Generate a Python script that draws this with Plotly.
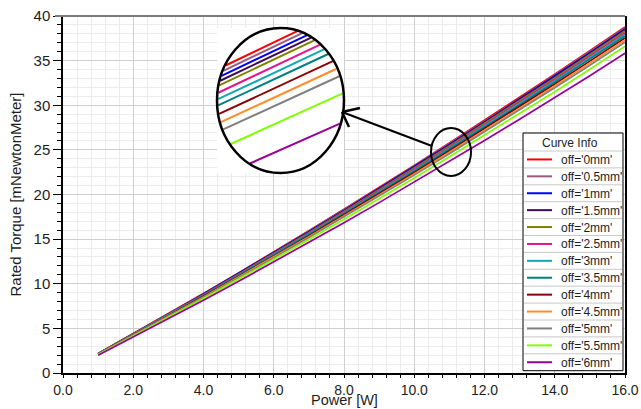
import math
import plotly.graph_objects as go

power = [1, 2, 3, 4, 5, 6, 7, 8, 9, 10, 11, 12, 13, 14, 15, 16]

names = ["off='0mm'", "off='0.5mm'", "off='1mm'", "off='1.5mm'", "off='2mm'",
         "off='2.5mm'", "off='3mm'", "off='3.5mm'", "off='4mm'", "off='4.5mm'",
         "off='5mm'", "off='5.5mm'", "off='6mm'"]

colors = ["#ff0000", "#9a5a7e", "#0000ff", "#3c0a5a", "#808000", "#e0148c",
          "#10a8b8", "#008080", "#8b0000", "#ff8c28", "#808080", "#80ff00", "#990099"]

off_0mm = [2.18, 4.39, 6.63, 8.90, 11.21, 13.55, 15.93, 18.34, 20.78, 23.25, 25.76, 28.30, 30.87, 33.47, 36.11, 38.78]
off_0p5mm = [2.17, 4.38, 6.61, 8.87, 11.17, 13.51, 15.88, 18.28, 20.71, 23.18, 25.68, 28.21, 30.77, 33.37, 36.00, 38.66]
off_1mm = [2.17, 4.36, 6.59, 8.84, 11.14, 13.46, 15.83, 18.22, 20.65, 23.10, 25.60, 28.12, 30.68, 33.26, 35.89, 38.54]
off_1p5mm = [2.16, 4.35, 6.56, 8.81, 11.10, 13.42, 15.78, 18.16, 20.58, 23.03, 25.52, 28.04, 30.58, 33.16, 35.78, 38.43]
off_2mm = [2.15, 4.33, 6.54, 8.78, 11.07, 13.38, 15.73, 18.11, 20.52, 22.96, 25.44, 27.95, 30.49, 33.06, 35.68, 38.32]
off_2p5mm = [2.14, 4.31, 6.51, 8.74, 11.01, 13.30, 15.64, 18.01, 20.41, 22.84, 25.31, 27.81, 30.34, 32.90, 35.50, 38.12]
off_3mm = [2.13, 4.29, 6.47, 8.69, 10.95, 13.24, 15.57, 17.92, 20.31, 22.73, 25.19, 27.68, 30.19, 32.74, 35.33, 37.95]
off_3p5mm = [2.12, 4.26, 6.44, 8.65, 10.90, 13.17, 15.49, 17.84, 20.21, 22.62, 25.07, 27.54, 30.05, 32.59, 35.17, 37.77]
off_4mm = [2.10, 4.23, 6.40, 8.59, 10.82, 13.08, 15.38, 17.72, 20.08, 22.47, 24.90, 27.36, 29.86, 32.38, 34.94, 37.53]
off_4p5mm = [2.09, 4.20, 6.35, 8.52, 10.74, 12.99, 15.27, 17.59, 19.93, 22.31, 24.73, 27.17, 29.65, 32.15, 34.70, 37.28]
off_5mm = [2.07, 4.17, 6.31, 8.47, 10.67, 12.90, 15.17, 17.48, 19.81, 22.17, 24.57, 27.00, 29.47, 31.96, 34.49, 37.05]
off_5p5mm = [2.04, 4.11, 6.21, 8.34, 10.52, 12.72, 14.96, 17.23, 19.53, 21.86, 24.23, 26.63, 29.06, 31.52, 34.03, 36.62]
off_6mm = [1.99, 4.02, 6.07, 8.15, 10.27, 12.43, 14.62, 16.84, 19.09, 21.38, 23.70, 26.05, 28.43, 30.85, 33.30, 35.84]

series = [off_0mm, off_0p5mm, off_1mm, off_1p5mm, off_2mm, off_2p5mm, off_3mm,
          off_3p5mm, off_4mm, off_4p5mm, off_5mm, off_5p5mm, off_6mm]

x_ticks = [0, 2, 4, 6, 8, 10, 12, 14, 16]
x_tick_labels = ["0.0", "2.0", "4.0", "6.0", "8.0", "10.0", "12.0", "14.0", "16.0"]
y_ticks = [0, 5, 10, 15, 20, 25, 30, 35, 40]
y_tick_labels = ["0", "5", "10", "15", "20", "25", "30", "35", "40"]

FONT = "Liberation Sans, Arial, sans-serif"
TXT = "#1e1e1e"

# plot-area geometry (pixels)
WIDTH, HEIGHT = 641, 409
L, T, W, H = 63, 16, 562, 357


def px(x):
    return (x - L) / W


def py(y):
    return (T + H - y) / H


fig = go.Figure()

for name, col, ys in zip(names, colors, series):
    fig.add_trace(go.Scatter(x=power, y=ys, mode="lines", name=name,
                             line=dict(color=col, width=1.7), showlegend=False))

# ---- magnified inset (same data, zoomed around P = 11 W) ----
ix0, ix1 = 217, 344
iy0, iy1 = 28, 173
xc_in, yc_in = 11.0, 24.62
a_in, b_in = 0.224, 1.348
for name, col, ys in zip(names, colors, series):
    i10, i11, i12 = power.index(10), power.index(11), power.index(12)
    s = (ys[i12] - ys[i10]) / 2.0
    c = ys[i11] - yc_in
    A = 1 / a_in ** 2 + s ** 2 / b_in ** 2
    B = 2 * c * s / b_in ** 2
    C = c ** 2 / b_in ** 2 - 1
    disc = B * B - 4 * A * C
    if disc <= 0:
        continue
    u1 = (-B - math.sqrt(disc)) / (2 * A) * 0.985
    u2 = (-B + math.sqrt(disc)) / (2 * A) * 0.985
    fig.add_trace(go.Scatter(x=[xc_in + u1, xc_in + u2],
                             y=[ys[i11] + s * u1, ys[i11] + s * u2],
                             mode="lines", line=dict(color=col, width=2),
                             xaxis="x2", yaxis="y2", showlegend=False,
                             hoverinfo="skip"))

shapes = []
# inset circle outline
shapes.append(dict(type="circle", xref="paper", yref="paper",
                   x0=px(ix0), x1=px(ix1), y0=py(iy1), y1=py(iy0),
                   line=dict(color="black", width=2.5)))
# small ellipse around the data
shapes.append(dict(type="circle", xref="paper", yref="paper",
                   x0=px(431), x1=px(471), y0=py(176), y1=py(128),
                   line=dict(color="black", width=2)))
# arrow shaft and head
tip = (342, 112)
shapes.append(dict(type="line", xref="paper", yref="paper",
                   x0=px(432), y0=py(146), x1=px(tip[0]), y1=py(tip[1]),
                   line=dict(color="black", width=2)))
for ex, ey in [(360, 108), (349, 127)]:
    shapes.append(dict(type="line", xref="paper", yref="paper",
                       x0=px(tip[0]), y0=py(tip[1]), x1=px(ex), y1=py(ey),
                       line=dict(color="black", width=2.5)))
# top border (gray)
shapes.append(dict(type="line", xref="paper", yref="paper",
                   x0=px(55), x1=1, y0=1, y1=1,
                   line=dict(color="#7a7a7a", width=2)))

# ---- legend box ("Curve Info") ----
lx0, lx1 = 523, 623
ly0 = 133
title_h = 18
row_h = 16.9
ly1 = ly0 + title_h + row_h * len(names)
shapes.append(dict(type="rect", xref="paper", yref="paper",
                   x0=px(lx0), x1=px(lx1), y0=py(ly1), y1=py(ly0),
                   fillcolor="white", line=dict(color="black", width=1), layer="above"))
annotations = []
annotations.append(dict(text="Curve Info", xref="paper", yref="paper",
                        x=px((lx0 + lx1) / 2 - 3), y=py(ly0 + title_h / 2 + 0.5),
                        showarrow=False, xanchor="center", yanchor="middle",
                        font=dict(family=FONT, size=12, color=TXT)))
for i, (name, col) in enumerate(zip(names, colors)):
    top = ly0 + title_h + row_h * i
    mid = top + row_h / 2
    shapes.append(dict(type="line", xref="paper", yref="paper",
                       x0=px(lx0 + 1), x1=px(lx1 - 1), y0=py(top), y1=py(top),
                       line=dict(color="#c8c8c8", width=1), layer="above"))
    shapes.append(dict(type="line", xref="paper", yref="paper",
                       x0=px(527), x1=px(552), y0=py(mid), y1=py(mid),
                       line=dict(color=col, width=2), layer="above"))
    annotations.append(dict(text=name, xref="paper", yref="paper",
                            x=px(559), y=py(mid + 0.5), showarrow=False,
                            xanchor="left", yanchor="middle",
                            font=dict(family=FONT, size=12, color=TXT)))

# x-axis title
annotations.append(dict(text="Power [W]", xref="paper", yref="paper",
                        x=0.5, y=py(409), xanchor="center", yanchor="bottom",
                        showarrow=False, borderpad=0,
                        font=dict(family=FONT, size=14.5, color=TXT)))

fig.update_layout(
    width=WIDTH, height=HEIGHT,
    margin=dict(l=L, r=WIDTH - L - W, t=T, b=HEIGHT - T - H, autoexpand=False),
    paper_bgcolor="white", plot_bgcolor="white",
    font=dict(family=FONT, color=TXT),
    showlegend=False,
    shapes=shapes, annotations=annotations,
    xaxis=dict(range=[0, 16], tickvals=x_ticks, ticktext=x_tick_labels,
               ticks="outside", ticklen=3, tickcolor="black", tickwidth=1,
               showline=True, linecolor="black", linewidth=1.5,
               showgrid=True, gridcolor="#cfcfcf", gridwidth=1, zeroline=False,
               minor=dict(dtick=0.4, tick0=0, ticks="outside", ticklen=3,
                          tickcolor="black", showgrid=True, gridcolor="#ececec"),
               tickfont=dict(family=FONT, size=14, color=TXT)),
    yaxis=dict(range=[0, 40], tickvals=y_ticks, ticktext=y_tick_labels,
               ticks="outside", ticklen=8, tickcolor="black", tickwidth=1,
               showline=True, linecolor="black", linewidth=1.5, mirror=True,
               showgrid=True, gridcolor="#cfcfcf", gridwidth=1, zeroline=False,
               minor=dict(dtick=1, tick0=0, ticks="outside", ticklen=4,
                          tickcolor="black", showgrid=True, gridcolor="#ececec"),
               tickfont=dict(family=FONT, size=15, color=TXT),
               title=dict(text="Rated Torque [mNewtonMeter]", standoff=8,
                          font=dict(family=FONT, size=15, color=TXT))),
    xaxis2=dict(domain=[px(ix0), px(ix1)], range=[xc_in - a_in, xc_in + a_in],
                anchor="y2", visible=False, fixedrange=True),
    yaxis2=dict(domain=[py(iy1), py(iy0)], range=[yc_in - b_in, yc_in + b_in],
                anchor="x2", visible=False, fixedrange=True),
)

fig.write_html("out.html", config={"displayModeBar": False},
               post_script="document.body.style.margin='0px';document.body.style.overflow='hidden';")
